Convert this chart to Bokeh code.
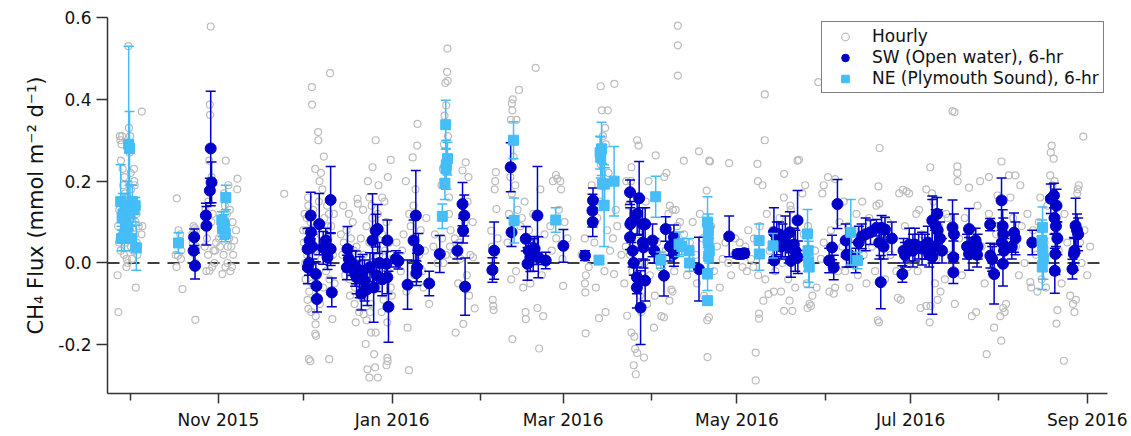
import pandas as pd
from bokeh.embed import file_html
from bokeh.models import (ColumnDataSource, DatetimeTickFormatter, FixedTicker, Legend, LegendItem,
                          PrintfTickFormatter, Range1d, Span)
from bokeh.plotting import figure
from bokeh.resources import INLINE

# Day offsets are counted from this date
EPOCH = pd.Timestamp("2015-10-01")

# Hourly fluxes (day offset, mmol m-2 d-1)
hourly_sep_oct = [
    (-4.4, -0.03), (-4.1, -0.12), (-4.2, 0.09), (-3.9, 0.05), (-3.6, 0.31), (-3.4, 0.30), (-3.2, 0.25),
    (-3.0, 0.29), (-2.8, 0.31), (-2.6, 0.23), (-2.4, 0.19), (-2.2, 0.15), (-2.0, 0.21), (-1.8, 0.17),
    (-1.6, 0.13), (-1.4, 0.11), (-1.2, 0.01), (-1.0, 0.09), (-0.8, 0.00), (-0.6, 0.53), (-0.4, 0.33),
    (-0.2, 0.27), (0.0, 0.31), (0.2, 0.22), (0.4, 0.18), (0.6, 0.14), (0.8, 0.10), (1.0, 0.06),
    (1.2, 0.03), (1.4, 0.23), (1.6, 0.19), (1.8, 0.07), (2.0, -0.06), (2.2, 0.12), (2.4, 0.04),
    (2.6, 0.02), (3.0, 0.09), (4.1, 0.37), (4.3, 0.09), (4.0, 0.07), (-3.8, 0.13), (-3.3, 0.03),
    (-2.9, 0.07), (-2.5, 0.11), (-2.1, 0.02), (-1.7, 0.05), (-1.3, -0.01), (-0.9, 0.16), (-0.5, 0.12),
    (-0.1, 0.08), (0.3, 0.04), (0.7, 0.01), (1.1, 0.15), (1.5, 0.20), (1.9, 0.10), (2.3, 0.05),
]
hourly_oct_nov = [
    (16.4, 0.158), (16.3, -0.01), (18.4, -0.064), (17.0, 0.08), (17.6, 0.07), (16.8, 0.018), (17.9, 0.01),
    (16.0, 0.02), (17.3, 0.045), (18.0, 0.03), (22.3, 0.09), (22.8, 0.085), (23.2, 0.08), (22.9, -0.139),
    (22.0, 0.05), (23.4, 0.04), (22.5, 0.075), (21.8, 0.07), (23.0, 0.0), (28.3, 0.578), (28.0, 0.387),
    (28.1, 0.362), (27.8, 0.25), (28.6, 0.21), (27.5, 0.15), (26.5, 0.13), (27.0, 0.06), (26.2, 0.04),
    (27.4, 0.02), (27.9, -0.019), (28.8, -0.01), (29.3, 0.03), (29.9, 0.03), (29.6, 0.0), (30.2, 0.05),
    (29.0, 0.12), (28.5, 0.1), (26.8, -0.02), (33.6, 0.25), (37.7, 0.206), (37.6, 0.18), (36.5, 0.055),
    (32.4, -0.027), (33.5, -0.01), (34.2, 0.0), (35.0, 0.13), (34.5, 0.19), (33.0, 0.17), (33.3, 0.14),
    (34.0, 0.12), (32.0, 0.08), (34.8, 0.06), (35.5, 0.04), (36.2, 0.02), (35.8, -0.01), (36.0, 0.1),
    (37.2, 0.08), (31.6, 0.04), (32.8, 0.02), (35.2, -0.02), (34.3, 0.04), (31.2, 0.06), (54.1, 0.169),
]
hourly_dec = [
    (63.8, 0.43), (63.9, 0.387), (66.0, 0.32), (66.1, 0.30), (70.2, 0.464), (65.0, 0.23), (66.5, 0.20),
    (62.6, 0.14), (62.0, 0.11), (69.8, 0.12), (69.5, 0.09), (62.8, -0.235), (63.3, -0.24), (69.9, -0.235),
    (65.0, -0.173), (65.3, -0.178), (65.1, -0.15), (65.2, -0.13), (62.6, -0.112), (62.3, -0.09),
    (71.0, -0.137), (62.9, -0.07), (61.0, 0.05), (61.3, 0.12), (61.6, -0.04), (61.9, 0.08), (62.2, 0.02),
    (62.5, 0.16), (63.0, -0.02), (63.3, 0.10), (63.6, 0.06), (64.0, -0.05), (64.3, 0.13), (64.6, 0.03),
    (65.5, 0.09), (65.8, -0.03), (66.3, 0.15), (66.8, 0.07), (67.2, 0.01), (67.5, 0.18), (67.8, -0.06),
    (68.2, 0.11), (68.5, 0.04), (68.8, -0.02), (69.2, 0.14), (69.6, 0.06), (70.0, -0.04), (70.6, 0.09),
    (71.2, 0.02), (71.5, 0.12), (71.8, -0.05), (64.8, -0.09), (63.6, -0.12), (66.6, -0.10), (61.5, 0.0),
    (67.0, 0.22), (68.0, 0.26), (60.8, 0.08),
    (86.2, 0.30), (85.1, 0.234), (91.5, 0.252), (90.5, 0.21), (79.8, 0.157), (80.0, 0.145), (83.5, 0.20),
    (87.2, 0.19), (88.5, 0.16), (89.3, 0.15), (74.8, 0.14), (84.0, 0.16), (82.7, -0.198), (84.6, -0.17),
    (86.2, -0.17), (85.7, -0.223), (83.3, -0.26), (84.0, -0.28), (87.0, -0.28), (86.0, -0.255),
    (90.3, -0.232), (90.4, -0.24), (90.0, -0.25), (79.2, -0.145), (80.4, -0.12), (82.0, -0.125),
    (84.2, -0.12), (78.8, -0.1), (80.6, -0.08), (90.3, -0.145), (91.9, -0.08), (74.0, 0.07), (74.5, 0.02),
    (75.0, 0.05), (75.5, -0.03), (76.0, 0.08), (76.5, 0.01), (77.0, -0.04), (77.5, 0.06), (78.0, -0.01),
    (78.5, 0.03), (79.0, -0.06), (79.5, 0.04), (80.0, 0.0), (80.5, -0.03), (81.0, 0.06), (81.5, -0.05),
    (82.0, 0.02), (82.5, -0.08), (83.0, 0.09), (83.5, -0.02), (84.0, 0.05), (84.5, -0.1), (85.0, 0.11),
    (85.5, -0.01), (86.0, 0.04), (86.5, -0.06), (87.0, 0.12), (87.5, 0.02), (88.0, -0.04), (88.5, 0.07),
    (89.0, -0.09), (89.5, 0.03), (90.0, 0.1), (90.5, -0.02), (91.0, 0.05), (91.5, -0.06), (92.0, 0.01),
    (76.8, 0.12), (78.2, 0.1), (81.8, 0.13), (84.8, 0.14), (77.2, -0.08), (83.0, -0.14), (88.3, -0.12),
]
hourly_jan = [
    (100.9, 0.34), (100.8, 0.287), (99.2, 0.258), (97.4, -0.158), (97.9, -0.262), (96.0, 0.07),
    (95.5, 0.03), (95.0, -0.02), (98.5, 0.09), (99.5, 0.14), (101.5, 0.02), (102.5, -0.02), (103.5, 0.03),
    (104.5, -0.05), (105.0, -0.1), (106.5, 0.04), (93.5, 0.05), (94.0, 0.0), (96.8, 0.2), (97.0, -0.07),
    (98.0, 0.12), (99.8, -0.03), (102.0, 0.08), (104.0, 0.11), (107.0, 0.07), (108.0, 0.0), (100.2, 0.18),
    (103.0, -0.06), (111.4, 0.524), (111.3, 0.467), (110.7, 0.44), (111.5, 0.445), (111.0, 0.385),
    (110.2, 0.29), (109.8, 0.23), (112.0, 0.16), (112.5, 0.08), (109.5, 0.06), (110.8, 0.02), (111.6, 0.31),
    (110.4, 0.36), (109.3, 0.19), (111.9, 0.12), (110.0, 0.0), (112.3, 0.04), (114.3, -0.17),
    (117.0, -0.149), (116.7, 0.226), (117.8, 0.246), (118.8, 0.21), (115.5, 0.05), (116.0, 0.01),
    (118.2, -0.03), (117.5, 0.1), (114.0, 0.06), (118.5, 0.15), (119.5, 0.02), (119.0, -0.08),
    (115.2, -0.05), (113.5, 0.02), (120.3, 0.1), (121.0, -0.111), (120.4, 0.014),
]
hourly_feb_mar = [
    (128.4, 0.222), (128.2, 0.20), (128.0, 0.18), (128.6, 0.132), (126.8, 0.079), (127.5, -0.105),
    (127.6, -0.115), (127.3, -0.09), (127.0, 0.04), (126.5, -0.02), (129.0, 0.06), (142.4, 0.477),
    (136.5, 0.423), (134.3, 0.40), (134.0, 0.39), (134.2, 0.373), (133.7, 0.35), (135.6, 0.35),
    (134.6, 0.26), (133.5, 0.21), (135.2, 0.19), (134.0, 0.17), (136.0, 0.13), (133.0, 0.12), (132.5, 0.05),
    (135.5, -0.02), (134.2, -0.186), (143.6, -0.209), (138.9, -0.137), (138.8, -0.12), (143.0, -0.11),
    (145.0, -0.13), (133.8, -0.04), (138.0, -0.06), (137.0, 0.09), (138.5, 0.15), (140.0, 0.08),
    (141.0, 0.0), (141.5, 0.12), (142.0, 0.05), (144.5, -0.03), (145.5, 0.07), (146.0, 0.01), (139.5, 0.03),
    (140.5, -0.05), (137.5, 0.11), (144.0, 0.18), (148.4, 0.2), (149.5, 0.215), (150.0, 0.206),
    (151.0, 0.2), (151.3, 0.18), (149.6, 0.06), (152.0, -0.056), (153.5, 0.06), (147.5, 0.09),
    (150.5, 0.13), (152.5, 0.1), (148.0, 0.03), (151.8, 0.01),
    (159.9, -0.172), (159.7, -0.05), (159.8, -0.072), (159.6, 0.06), (160.0, -0.03), (158.5, 0.02),
    (165.2, 0.432), (170.0, 0.438), (165.6, 0.373), (167.7, 0.373), (166.8, 0.33), (166.0, 0.31),
    (167.0, 0.29), (165.3, 0.24), (168.0, 0.22), (164.6, -0.135), (166.9, -0.12), (169.9, -0.027),
    (169.5, 0.06), (163.0, 0.05), (164.0, 0.11), (165.0, 0.15), (167.5, 0.08), (168.5, 0.03),
    (166.5, -0.02), (163.5, -0.06), (170.5, 0.13), (171.0, 0.09), (162.0, 0.19), (161.0, -0.01),
    (174.5, -0.129), (177.5, -0.272), (176.8, -0.25), (178.0, -0.22), (177.3, -0.21), (176.0, -0.17),
    (177.0, -0.18), (178.5, 0.287), (178.0, 0.30), (176.0, 0.234), (175.8, 0.20), (175.0, 0.14),
    (176.5, 0.12), (177.5, 0.1), (178.8, 0.07), (174.0, 0.04), (175.5, 0.02), (176.3, -0.02),
    (177.8, -0.05), (179.0, -0.08), (179.5, -0.12), (180.0, 0.05), (180.4, -0.231), (181.0, 0.15),
    (182.0, 0.2), (182.5, -0.03), (174.2, 0.2), (173.5, -0.05), (172.5, 0.02), (181.5, -0.1), (180.6, 0.09),
]
hourly_apr_may = [
    (183.9, -0.158), (187.4, -0.133), (186.5, -0.13), (184.5, 0.263), (188.3, 0.22), (187.5, 0.21),
    (194.4, 0.25), (199.7, 0.273), (203.6, 0.248), (203.3, 0.25), (202.4, 0.177), (189.5, 0.14),
    (190.5, 0.13), (191.5, 0.13), (189.0, 0.12), (192.0, 0.09), (193.0, 0.1), (189.3, -0.092),
    (184.2, -0.08), (190.4, -0.07), (190.0, -0.065), (192.3, 0.58), (192.3, 0.532), (192.3, 0.458),
    (202.7, -0.23), (203.2, -0.133), (202.6, -0.14), (185.0, 0.05), (186.0, -0.01), (188.0, 0.03),
    (191.0, -0.02), (193.5, 0.04), (194.5, 0.07), (195.5, -0.03), (196.5, 0.05), (197.5, 0.1),
    (198.5, 0.02), (199.0, -0.05), (200.0, 0.12), (201.0, 0.06), (201.5, -0.08), (204.0, 0.09),
    (205.0, -0.02), (206.0, 0.04), (207.0, -0.06), (208.0, 0.01), (209.0, 0.05), (210.3, 0.244),
    (210.0, 0.0), (211.0, -0.03), (212.0, 0.02), (212.5, 0.06), (180.5, 0.0),
    (222.8, 0.30), (222.8, 0.412), (219.6, -0.219), (219.6, -0.287), (220.2, 0.242), (220.4, 0.2),
    (222.0, 0.19), (229.6, 0.218), (234.3, 0.25), (229.5, 0.16), (231.8, 0.14), (232.0, 0.13),
    (220.8, -0.136), (220.8, -0.124), (222.3, -0.092), (224.1, -0.076), (229.6, -0.117), (232.5, -0.117),
    (231.5, -0.092), (226.0, -0.07), (228.5, -0.07), (216.5, -0.02), (218.8, -0.01), (220.5, -0.03),
    (223.0, -0.04), (214.0, 0.05), (215.0, -0.01), (216.0, 0.04), (217.0, 0.08), (218.0, 0.01),
    (219.0, 0.06), (221.0, 0.09), (223.5, 0.12), (224.5, 0.03), (225.5, 0.08), (226.5, -0.02),
    (227.5, 0.05), (228.0, 0.11), (229.0, 0.0), (230.5, 0.07), (231.0, -0.04), (233.0, 0.04),
    (233.5, -0.06), (234.5, 0.1), (235.5, 0.02), (236.5, 0.07), (237.5, -0.05), (238.0, 0.09),
    (234.8, 0.252), (239.0, -0.105), (238.5, -0.1), (237.8, -0.11), (239.5, -0.08), (237.0, 0.19),
    (236.0, 0.17), (240.5, 0.03), (241.6, 0.442), (241.0, -0.06), (242.5, 0.01), (243.5, 0.05),
]
hourly_jun_jul = [
    (245.0, 0.21), (247.5, 0.205), (246.0, 0.08), (245.5, -0.07), (247.5, -0.06), (247.0, -0.075),
    (249.0, 0.1), (250.0, 0.04), (251.0, -0.02), (252.0, 0.09), (253.5, 0.0), (254.5, 0.06),
    (255.5, -0.03), (256.5, 0.08), (257.5, 0.02), (258.5, -0.05), (259.5, 0.11), (260.5, 0.04),
    (261.5, -0.02), (262.0, 0.14), (263.1, 0.281), (262.7, 0.187), (263.0, 0.145), (262.9, -0.145),
    (262.5, -0.14), (264.0, 0.07), (265.0, -0.04), (266.0, 0.1), (267.0, 0.02), (268.0, 0.06),
    (269.0, -0.02), (270.0, 0.17), (271.3, 0.179), (272.6, 0.175), (273.5, 0.17), (270.5, -0.09),
    (269.5, -0.085), (272.0, 0.09), (273.0, -0.01), (257.0, 0.15), (255.0, 0.12), (252.5, -0.06),
    (250.5, 0.15), (248.5, -0.02), (243.5, 0.19), (243.0, 0.17),
    (280.9, 0.234), (279.5, 0.18), (281.5, 0.17), (282.0, 0.15), (276.0, 0.12), (275.0, 0.05),
    (276.5, -0.02), (277.5, -0.11), (281.0, -0.105), (279.5, -0.105), (280.7, -0.145), (283.5, -0.09),
    (288.7, 0.371), (289.4, 0.369), (289.5, -0.1), (290.4, 0.236), (290.4, 0.22), (290.5, 0.2),
    (284.0, 0.09), (285.0, 0.03), (286.0, -0.04), (287.0, 0.11), (288.0, 0.02), (278.0, 0.07),
    (277.0, 0.13), (283.0, 0.01), (282.5, -0.05), (286.5, 0.12), (284.5, -0.07), (291.0, 0.06),
    (292.0, -0.03), (293.0, 0.11), (294.5, 0.184), (295.5, -0.13), (297.0, -0.12), (296.0, 0.08),
    (297.5, 0.14), (298.4, 0.2), (299.0, 0.04), (300.0, -0.05), (300.7, -0.223), (301.5, 0.12),
    (302.5, -0.02), (303.3, -0.158), (304.0, 0.07), (304.5, 0.165),
]
hourly_aug_sep = [
    (305.8, -0.19), (305.9, 0.248), (307.0, -0.12), (306.5, -0.11), (305.5, -0.13), (307.5, -0.1),
    (308.5, 0.214), (309.0, 0.16), (310.0, 0.11), (311.0, 0.04), (312.0, -0.03), (313.0, 0.09),
    (314.0, 0.0), (315.0, 0.12), (316.0, -0.047), (316.3, -0.06), (317.0, 0.08), (318.0, 0.02),
    (319.0, 0.1), (320.0, -0.04), (321.0, 0.05), (322.0, 0.14), (323.0, 0.214), (323.5, 0.287),
    (323.2, 0.27), (324.2, 0.255), (324.5, 0.2), (323.8, 0.19), (325.0, 0.09), (325.5, -0.115),
    (325.2, -0.148), (327.8, -0.239), (326.0, 0.03), (327.0, -0.05), (328.0, 0.12), (329.0, 0.05),
    (330.0, -0.08), (331.0, -0.1), (331.5, -0.12), (332.0, -0.09), (332.7, 0.18), (333.0, 0.19),
    (332.5, 0.17), (334.6, 0.309), (333.5, 0.05), (334.0, 0.0), (335.0, 0.08), (336.0, -0.03),
    (337.0, 0.04), (301.5, 0.21), (310.8, 0.214), (312.5, 0.19), (318.5, -0.07), (321.5, -0.06),
    (319.5, 0.16),
]

# SW (open water) 6-hr means: (day offset, flux, error)
sw_fall = [
    (22.5, 0.063, 0.02), (22.3, 0.030, 0.03), (22.8, -0.007, 0.032), (26.6, 0.116, 0.03),
    (26.8, 0.091, 0.047), (28.0, 0.177, 0.03), (28.6, 0.197, 0.05), (28.3, 0.28, 0.14),
]
sw_winter = [
    (63.4, 0.116, 0.057), (63.5, 0.075, 0.04), (62.3, 0.034, 0.05), (62.4, -0.011, 0.04),
    (65.2, -0.027, 0.03), (65.4, -0.056, 0.03), (65.6, -0.088, 0.032), (66.4, 0.095, 0.075),
    (68.7, 0.055, 0.03), (70.4, 0.154, 0.082), (70.4, 0.034, 0.04), (70.8, -0.072, 0.035),
    (69.3, 0.014, 0.03), (67.8, 0.037, 0.04), (64.0, 0.04, 0.03), (62.8, 0.0, 0.03), (63.0, 0.055, 0.03),
    (76.3, 0.034, 0.055), (76.1, -0.011, 0.03), (76.8, 0.01, 0.03), (79.2, -0.011, 0.04),
    (79.0, -0.027, 0.03), (79.5, -0.035, 0.04), (81.6, -0.019, 0.04), (82.3, -0.043, 0.05),
    (83.3, -0.064, 0.04), (85.1, 0.055, 0.114), (86.2, 0.079, 0.04), (86.9, 0.083, 0.06),
    (85.5, -0.06, 0.085), (86.5, -0.03, 0.04), (90.3, 0.055, 0.05), (90.0, -0.002, 0.03),
    (90.3, -0.035, 0.04), (90.7, -0.107, 0.087), (93.3, 0.01, 0.02), (94.2, 0.005, 0.02),
    (80.6, -0.035, 0.05), (81.2, -0.075, 0.04), (84.2, -0.01, 0.035), (88.5, -0.04, 0.04),
    (87.6, 0.0, 0.05), (77.8, 0.0, 0.03),
    (97.4, -0.053, 0.06), (100.3, 0.116, 0.11), (99.5, 0.055, 0.05), (101.2, 0.032, 0.04),
    (100.7, -0.011, 0.035), (100.5, -0.025, 0.03), (105.0, -0.05, 0.03), (108.7, 0.022, 0.045),
    (114.9, 0.03, 0.02), (116.7, 0.144, 0.053), (117.3, 0.116, 0.05), (116.9, 0.079, 0.03),
    (117.6, -0.058, 0.07),
    (127.8, 0.03, 0.07), (127.2, -0.017, 0.03), (133.6, 0.234, 0.06), (133.9, 0.075, 0.035),
    (138.9, 0.059, 0.03), (139.5, -0.002, 0.04), (139.9, 0.03, 0.03), (140.5, 0.014, 0.035),
    (143.0, 0.116, 0.12), (143.3, 0.014, 0.05), (145.9, 0.006, 0.02), (141.5, 0.02, 0.04),
    (142.0, 0.035, 0.03), (152.1, 0.042, 0.04),
]
sw_spring = [
    (159.7, 0.018, 0.012), (162.3, 0.128, 0.04), (162.5, 0.153, 0.03), (162.4, 0.10, 0.035),
    (175.5, 0.173, 0.03), (178.7, 0.158, 0.09), (175.6, 0.095, 0.04), (176.0, 0.10, 0.05),
    (175.5, 0.063, 0.03), (176.4, 0.03, 0.04), (176.8, 0.0, 0.03), (177.9, -0.035, 0.04),
    (177.9, -0.06, 0.05), (179.2, -0.109, 0.09), (179.9, 0.095, 0.04), (180.0, 0.05, 0.04),
    (178.0, 0.12, 0.05), (180.8, 0.095, 0.04), (180.2, 0.038, 0.05), (180.8, -0.043, 0.05),
    (183.4, 0.055, 0.04), (184.0, 0.03, 0.03), (188.0, 0.083, 0.03), (187.4, -0.031, 0.05),
    (190.9, 0.063, 0.03), (190.9, 0.022, 0.03), (189.5, 0.04, 0.035), (199.7, -0.015, 0.078),
    (210.3, 0.065, 0.05), (213.2, 0.022, 0.01), (214.0, 0.022, 0.01), (215.0, 0.022, 0.01),
    (215.6, 0.024, 0.01), (226.0, 0.075, 0.06), (227.0, 0.06, 0.04), (227.8, 0.07, 0.03),
    (229.0, 0.055, 0.04), (228.5, 0.04, 0.03), (230.0, 0.065, 0.05), (231.2, 0.04, 0.04),
    (231.6, 0.075, 0.05), (233.0, 0.045, 0.04), (234.3, 0.104, 0.073), (226.1, 0.006, 0.03),
    (233.5, 0.03, 0.05), (232.0, 0.005, 0.04),
]
sw_summer = [
    (234.4, 0.014, 0.04), (245.4, 0.006, 0.03), (247.0, -0.011, 0.03), (246.4, 0.038, 0.03),
    (248.3, 0.144, 0.06), (251.2, 0.055, 0.04), (251.5, 0.02, 0.03), (252.5, 0.02, 0.03),
    (254.7, 0.006, 0.03), (255.8, 0.05, 0.04), (256.8, 0.065, 0.03), (258.2, 0.07, 0.04),
    (259.9, 0.075, 0.03), (262.0, 0.086, 0.02), (263.8, 0.086, 0.03), (265.0, 0.082, 0.03),
    (263.0, 0.05, 0.04), (264.5, 0.04, 0.03), (267.4, 0.06, 0.04), (263.5, -0.047, 0.065),
    (271.5, 0.03, 0.03), (272.0, 0.02, 0.03), (273.5, 0.045, 0.04), (271.1, -0.027, 0.02),
    (274.8, 0.03, 0.04), (275.5, 0.045, 0.04), (276.8, 0.04, 0.03), (278.0, 0.035, 0.04),
    (279.0, 0.04, 0.03), (280.0, 0.05, 0.04), (280.5, 0.02, 0.03), (281.6, 0.104, 0.06),
    (282.8, 0.09, 0.04), (283.3, 0.12, 0.04), (281.6, 0.015, 0.14), (283.5, 0.08, 0.05),
    (284.3, 0.06, 0.04), (282.5, 0.04, 0.04), (285.0, 0.03, 0.03), (288.7, 0.087, 0.067),
    (289.0, 0.014, 0.04), (289.0, -0.023, 0.027), (289.2, 0.07, 0.05), (294.5, 0.083, 0.05),
    (294.5, 0.022, 0.04), (297.5, 0.04, 0.03), (296.8, 0.055, 0.03), (297.3, 0.02, 0.03),
    (293.8, 0.04, 0.03), (301.9, 0.094, 0.015), (302.0, 0.018, 0.03), (302.6, 0.01, 0.03),
    (303.3, -0.027, 0.073), (305.9, 0.153, 0.055), (306.3, 0.09, 0.04), (306.5, 0.07, 0.04),
    (306.0, 0.05, 0.03), (306.4, -0.002, 0.054), (306.8, 0.03, 0.03), (310.3, 0.074, 0.048),
    (310.8, 0.06, 0.04), (309.5, 0.04, 0.03), (316.7, 0.05, 0.03), (323.2, 0.157, 0.036),
    (324.3, 0.165, 0.03), (325.2, 0.14, 0.04), (324.5, 0.11, 0.04), (325.0, 0.09, 0.05),
    (324.8, 0.022, 0.05), (324.6, -0.019, 0.055), (325.5, 0.06, 0.04), (331.9, 0.091, 0.067),
    (332.4, 0.08, 0.04), (332.8, 0.07, 0.04), (331.3, 0.022, 0.04), (330.8, -0.015, 0.024),
    (331.5, 0.03, 0.03),
]

# NE (Plymouth Sound) 6-hr means: (day offset, flux, error)
ne_fall_winter = [
    (-3.3, 0.15, 0.09), (-3.0, 0.06, 0.03), (-2.5, 0.12, 0.05), (-2.0, 0.07, 0.04), (-1.8, 0.13, 0.04),
    (-1.5, 0.10, 0.05), (-1.0, 0.14, 0.06), (-0.8, 0.09, 0.04), (-0.5, 0.29, 0.24), (-0.2, 0.28, 0.09),
    (0.0, 0.12, 0.07), (0.3, 0.06, 0.03), (0.8, 0.15, 0.04), (1.3, 0.13, 0.03), (1.8, 0.14, 0.02),
    (2.2, 0.037, 0.055), (-2.8, 0.11, 0.03), (17.0, 0.049, 0.025), (33.6, 0.16, 0.03),
    (32.9, 0.096, 0.03), (32.5, 0.084, 0.02), (33.4, 0.072, 0.02), (32.2, 0.105, 0.02),
    (33.0, 0.088, 0.03), (110.8, 0.338, 0.06), (111.4, 0.255, 0.04), (111.0, 0.24, 0.06),
    (110.9, 0.23, 0.05), (110.5, 0.195, 0.04), (109.6, 0.114, 0.03),
]
ne_spring_summer = [
    (134.6, 0.30, 0.045), (134.8, 0.104, 0.055), (149.4, 0.105, 0.03), (165.5, 0.279, 0.065),
    (165.2, 0.258, 0.05), (165.0, 0.27, 0.04), (165.8, 0.193, 0.05), (166.6, 0.193, 0.04),
    (169.9, 0.20, 0.085), (166.4, 0.14, 0.10), (164.6, 0.007, 0.01), (184.5, 0.162, 0.05),
    (186.3, 0.007, 0.02), (192.7, 0.046, 0.03), (196.2, 0.03, 0.03), (196.4, 0.0, 0.02),
    (193.7, 0.04, 0.02), (202.7, 0.10, 0.062), (202.9, 0.055, 0.04), (203.1, 0.016, 0.03),
    (202.7, -0.027, 0.04), (202.7, -0.092, 0.01), (203.3, 0.03, 0.03), (203.0, 0.08, 0.04),
    (220.8, 0.055, 0.04), (220.9, 0.022, 0.04), (225.7, 0.042, 0.03), (237.8, 0.071, 0.06),
    (238.0, 0.03, 0.05), (238.2, 0.003, 0.05), (238.4, -0.01, 0.05), (253.0, 0.075, 0.08),
    (255.3, 0.006, 0.02), (320.3, 0.087, 0.05), (320.1, 0.055, 0.05), (320.4, 0.03, 0.05),
    (320.6, 0.01, 0.05), (320.2, -0.01, 0.055),
]

# Axis ticks
y_ticks = [-0.2, 0.0, 0.2, 0.4, 0.6]
x_major = ["2015-11-01", "2016-01-01", "2016-03-01", "2016-05-01", "2016-07-01", "2016-09-01"]
x_minor = ["2015-10-01", "2015-12-01", "2016-02-01", "2016-04-01", "2016-06-01", "2016-08-01"]

FONT = "DejaVu Sans"
SW_COLOR = "#0000c8"
NE_COLOR = "#45bdf6"
GRAY = "#bcbcbc"


def make_source(rows, with_err=False):
    cols = ["day", "flux", "err"] if with_err else ["day", "flux"]
    df = pd.DataFrame(rows, columns=cols)
    df["date"] = EPOCH + pd.to_timedelta(df["day"], unit="D")
    if with_err:
        df["lower"] = df["flux"] - df["err"]
        df["upper"] = df["flux"] + df["err"]
    return ColumnDataSource(df)


def to_ms(dates):
    return [pd.Timestamp(d).value // 10**6 for d in dates]


hourly_src = make_source(hourly_sep_oct + hourly_oct_nov + hourly_dec + hourly_jan + hourly_feb_mar
                         + hourly_apr_may + hourly_jun_jul + hourly_aug_sep)
sw_src = make_source(sw_fall + sw_winter + sw_spring + sw_summer, with_err=True)
ne_src = make_source(ne_fall_winter + ne_spring_summer, with_err=True)

p = figure(
    width=1131,
    height=436,
    x_axis_type="datetime",
    x_range=Range1d(EPOCH - pd.Timedelta(days=7.93), EPOCH + pd.Timedelta(days=343.1)),
    y_range=Range1d(-0.319, 0.6),
    output_backend="svg",
    toolbar_location=None,
    min_border_left=107,
    min_border_right=24,
    min_border_top=17,
    min_border_bottom=43,
)
p.grid.visible = False
p.outline_line_color = None

# zero reference line
p.add_layout(Span(location=0, dimension="width", line_color="black", line_dash="12 8",
                  line_width=1.5, level="underlay"))

hourly_r = p.scatter("date", "flux", source=hourly_src, size=7, marker="circle",
                     fill_color=None, line_color=GRAY, line_width=1.2)

# SW error bars and points
p.segment(x0="date", y0="lower", x1="date", y1="upper", source=sw_src, line_color=SW_COLOR, line_width=1.5)
for col in ["lower", "upper"]:
    p.scatter("date", col, source=sw_src, marker="dash", size=10, line_color=SW_COLOR, line_width=1.5)
sw_r = p.scatter("date", "flux", source=sw_src, marker="circle", size=11,
                 fill_color=SW_COLOR, line_color=SW_COLOR)

# NE error bars and points
p.segment(x0="date", y0="lower", x1="date", y1="upper", source=ne_src, line_color=NE_COLOR, line_width=1.5)
for col in ["lower", "upper"]:
    p.scatter("date", col, source=ne_src, marker="dash", size=10, line_color=NE_COLOR, line_width=1.5)
ne_r = p.scatter("date", "flux", source=ne_src, marker="square", size=10,
                 fill_color=NE_COLOR, line_color=NE_COLOR)

# Axes
for ax in [p.xaxis[0], p.yaxis[0]]:
    ax.axis_line_color = "#333333"
    ax.axis_line_width = 1.5
    ax.major_tick_line_color = "#333333"
    ax.major_tick_line_width = 1.5
    ax.minor_tick_line_color = "#333333"
    ax.minor_tick_line_width = 1.5
    ax.major_tick_in = 0
    ax.minor_tick_in = 0
    ax.major_label_text_font = FONT
    ax.major_label_text_font_size = "17px"
    ax.major_label_text_color = "#111111"

p.xaxis.ticker = FixedTicker(ticks=to_ms(x_major), minor_ticks=to_ms(x_minor))
p.xaxis.formatter = DatetimeTickFormatter(days="%b %Y", months="%b %Y", years="%b %Y")
p.xaxis.major_tick_out = 10
p.xaxis.minor_tick_out = 7
p.xaxis.major_label_standoff = 6

p.yaxis.ticker = FixedTicker(ticks=y_ticks, minor_ticks=[])
p.yaxis.formatter = PrintfTickFormatter(format="%.1f")
p.yaxis.major_tick_out = 11
p.yaxis.major_label_standoff = 5
p.yaxis.axis_label = "CH\u2084 Flux (mmol m\u207b\u00b2 d\u207b\u00b9)"
p.yaxis.axis_label_text_font = FONT
p.yaxis.axis_label_text_font_size = "21px"
p.yaxis.axis_label_text_font_style = "normal"
p.yaxis.axis_label_text_color = "#111111"
p.yaxis.axis_label_standoff = 7

legend = Legend(
    items=[
        LegendItem(label="Hourly", renderers=[hourly_r]),
        LegendItem(label="SW (Open water), 6-hr", renderers=[sw_r]),
        LegendItem(label="NE (Plymouth Sound), 6-hr", renderers=[ne_r]),
    ],
    location=(714, 300),
    label_text_font=FONT,
    label_text_font_size="17px",
    label_text_color="#111111",
    label_height=19,
    glyph_height=19,
    glyph_width=38,
    label_standoff=8,
    spacing=1,
    padding=4,
    margin=0,
    border_line_color="black",
    border_line_width=1.5,
    background_fill_color="white",
    background_fill_alpha=1.0,
)
p.add_layout(legend)

open("out.html", "w").write(file_html(p, INLINE))
